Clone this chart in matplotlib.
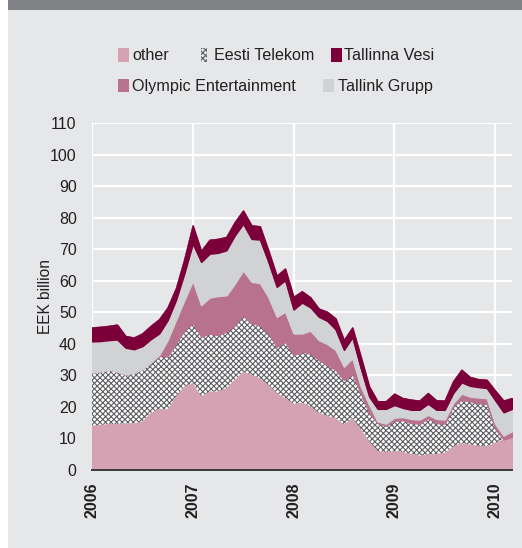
import matplotlib
matplotlib.use("Agg")
import matplotlib.pyplot as plt
import matplotlib.patches as mpatches
import numpy as np

plt.rcParams["font.family"] = ["Liberation Sans", "DejaVu Sans"]
plt.rcParams["hatch.color"] = "#5e5f62"
plt.rcParams["hatch.linewidth"] = 0.8

# Monthly market capitalisation, Jan 2006 .. Mar 2010 (EEK billion)
start_year = 2006
other = [14.1, 14.3, 14.6, 14.6, 14.8, 14.8, 15.4, 18.1, 19.4, 19.2,
         23.3, 26.5, 27.6, 23.3, 24.9, 24.9, 26.0, 28.6, 31.2, 30.2,
         29.1, 27.0, 24.4, 22.8, 21.0, 21.4, 20.2, 18.1, 17.2, 16.5,
         14.4, 16.5, 13.0, 9.1, 6.0, 5.7, 6.0, 5.7, 5.1, 4.6,
         4.9, 5.1, 5.5, 7.4, 8.6, 8.1, 7.6, 7.6, 8.6, 9.7, 10.5]
telekom = [16.8, 17.0, 17.2, 16.7, 15.5, 16.1, 16.6, 16.0, 16.8, 16.8,
           16.9, 17.9, 19.1, 19.0, 18.4, 17.9, 17.9, 17.4, 17.9, 16.3,
           16.9, 16.3, 14.7, 17.9, 15.5, 16.1, 16.8, 16.8, 16.1, 15.3,
           14.2, 14.0, 11.4, 9.0, 8.9, 8.4, 9.6, 10.1, 9.8, 10.1,
           11.5, 9.8, 9.2, 13.0, 13.7, 13.7, 13.6, 13.4, 4.5, 0.0, 0.0]
olympic = [0, 0, 0, 0, 0, 0, 0, 0, 0.3, 5.2,
           7.4, 9.5, 13.3, 10.0, 11.4, 12.4, 11.5, 13.1, 14.2, 13.2,
           13.3, 11.6, 9.5, 9.5, 6.8, 5.8, 7.2, 6.3, 6.7, 6.3,
           4.2, 5.0, 2.1, 2.6, 0.5, 0.6, 1.0, 1.0, 1.3, 1.3,
           1.1, 1.3, 1.3, 0.8, 1.9, 1.5, 1.8, 1.8, 1.5, 1.2, 1.8]
tallink = [9.9, 9.6, 9.4, 10.1, 8.5, 7.4, 7.3, 7.4, 6.8, 6.3,
           6.3, 8.5, 11.8, 13.7, 13.9, 13.7, 14.3, 15.3, 14.8, 13.6,
           13.8, 11.1, 9.5, 10.0, 7.6, 9.8, 7.4, 7.4, 7.3, 6.5,
           5.3, 6.6, 5.8, 2.6, 4.0, 4.7, 4.0, 2.9, 2.9, 3.1,
           3.5, 2.9, 3.1, 3.2, 3.6, 3.4, 3.3, 3.2, 7.5, 7.4, 7.1]
vesi = [4.4, 4.5, 4.5, 4.7, 3.7, 3.7, 4.0, 4.2, 4.5, 4.0,
        3.7, 4.5, 5.8, 3.5, 4.4, 4.4, 4.2, 4.2, 4.2, 4.3,
        4.2, 3.7, 3.5, 3.7, 4.0, 3.6, 3.2, 2.6, 2.9, 3.5,
        3.1, 3.1, 3.7, 3.2, 2.4, 2.4, 3.6, 3.1, 3.2, 2.9,
        3.4, 3.0, 2.9, 3.7, 4.0, 2.8, 2.5, 2.6, 3.1, 3.7, 3.4]
years = [2006, 2007, 2008, 2009, 2010]

BG = "#e6e7e9"
C_OTHER = "#d4a2b2"
C_OLYMPIC = "#b8728c"
C_TALLINK = "#d1d2d4"
C_VESI = "#7b0039"
C_HATCH = "#5e5f62"
TXT = "#231f20"

W, H = 522, 548
fig = plt.figure(figsize=(W / 100, H / 100), dpi=100)
fig.patch.set_facecolor("white")

# panel background + top band
fig.add_artist(mpatches.Rectangle((8 / W, 0), 1 - 8 / W, 1 - 10 / H,
               transform=fig.transFigure, facecolor=BG, edgecolor="none", zorder=0))
fig.add_artist(mpatches.Rectangle((8 / W, 1 - 10 / H), 1 - 8 / W, 10 / H,
               transform=fig.transFigure, facecolor="#808185", edgecolor="none", zorder=0))

ax = fig.add_axes([92 / W, 78 / H, 420 / W, (470 - 123.3) / H])
ax.set_facecolor(BG)

x = start_year + np.arange(len(other)) / 12.0
layers = [
    (other, dict(color=C_OTHER)),
    (telekom, dict(facecolor="white", hatch="xxxxxx", edgecolor=C_HATCH, linewidth=0)),
    (olympic, dict(color=C_OLYMPIC)),
    (tallink, dict(color=C_TALLINK)),
    (vesi, dict(color=C_VESI)),
]
base = np.zeros(len(x))
for vals, style in layers:
    top = base + np.array(vals)
    ax.fill_between(x, base, top, zorder=2, **style)
    if "hatch" not in style:
        ax.fill_between(x, base, top, facecolor="none", edgecolor=style["color"],
                        linewidth=0.4, zorder=2)
    base = top

ax.set_xlim(x[0], x[-1])
ax.set_ylim(0, 110)
ax.set_yticks(range(0, 111, 10))
ax.set_xticks(years)
ax.set_xticklabels([str(y) for y in years], rotation=90, fontweight="bold",
                   fontsize=11.5, color=TXT)
ax.tick_params(axis="y", length=0, pad=11, labelsize=11.5, labelcolor=TXT)
ax.tick_params(axis="x", length=0, pad=9)
ax.grid(True, color="white", linewidth=1.6, zorder=1)
ax.set_axisbelow(True)
for side in ["top", "right", "left"]:
    ax.spines[side].set_visible(False)
ax.spines["bottom"].set_color("#3a3a3c")
ax.spines["bottom"].set_linewidth(1.4)
ax.spines["bottom"].set_zorder(3)
ax.set_ylabel("EEK billion", fontsize=11.2, color=TXT, labelpad=-2)

# legend, drawn by hand to keep the two loose rows
def legend_box(x0, y0, w, h, **kw):
    fig.add_artist(mpatches.Rectangle((x0 / W, 1 - (y0 + h) / H), w / W, h / H,
                   transform=fig.transFigure, **kw))

def legend_text(x0, yc, s):
    fig.text(x0 / W, 1 - yc / H, s, fontsize=11.6, color=TXT,
             ha="left", va="center")

legend_box(118, 48.5, 11, 13, facecolor=C_OTHER, edgecolor="none")
legend_text(132.5, 55, "other")
legend_box(201, 48.5, 6, 13, facecolor=BG, hatch="xxxxxx", edgecolor=C_HATCH, linewidth=0)
legend_text(214.5, 55, "Eesti Telekom")
legend_box(331, 48.5, 11, 13, facecolor=C_VESI, edgecolor="none")
legend_text(344.5, 55, "Tallinna Vesi")
legend_box(118, 79.5, 11, 13, facecolor=C_OLYMPIC, edgecolor="none")
legend_text(132.5, 86, "Olympic Entertainment")
legend_box(323, 79.5, 11, 13, facecolor=C_TALLINK, edgecolor="none")
legend_text(337.5, 86, "Tallink Grupp")

fig.savefig("out.png", dpi=100, facecolor="white")
